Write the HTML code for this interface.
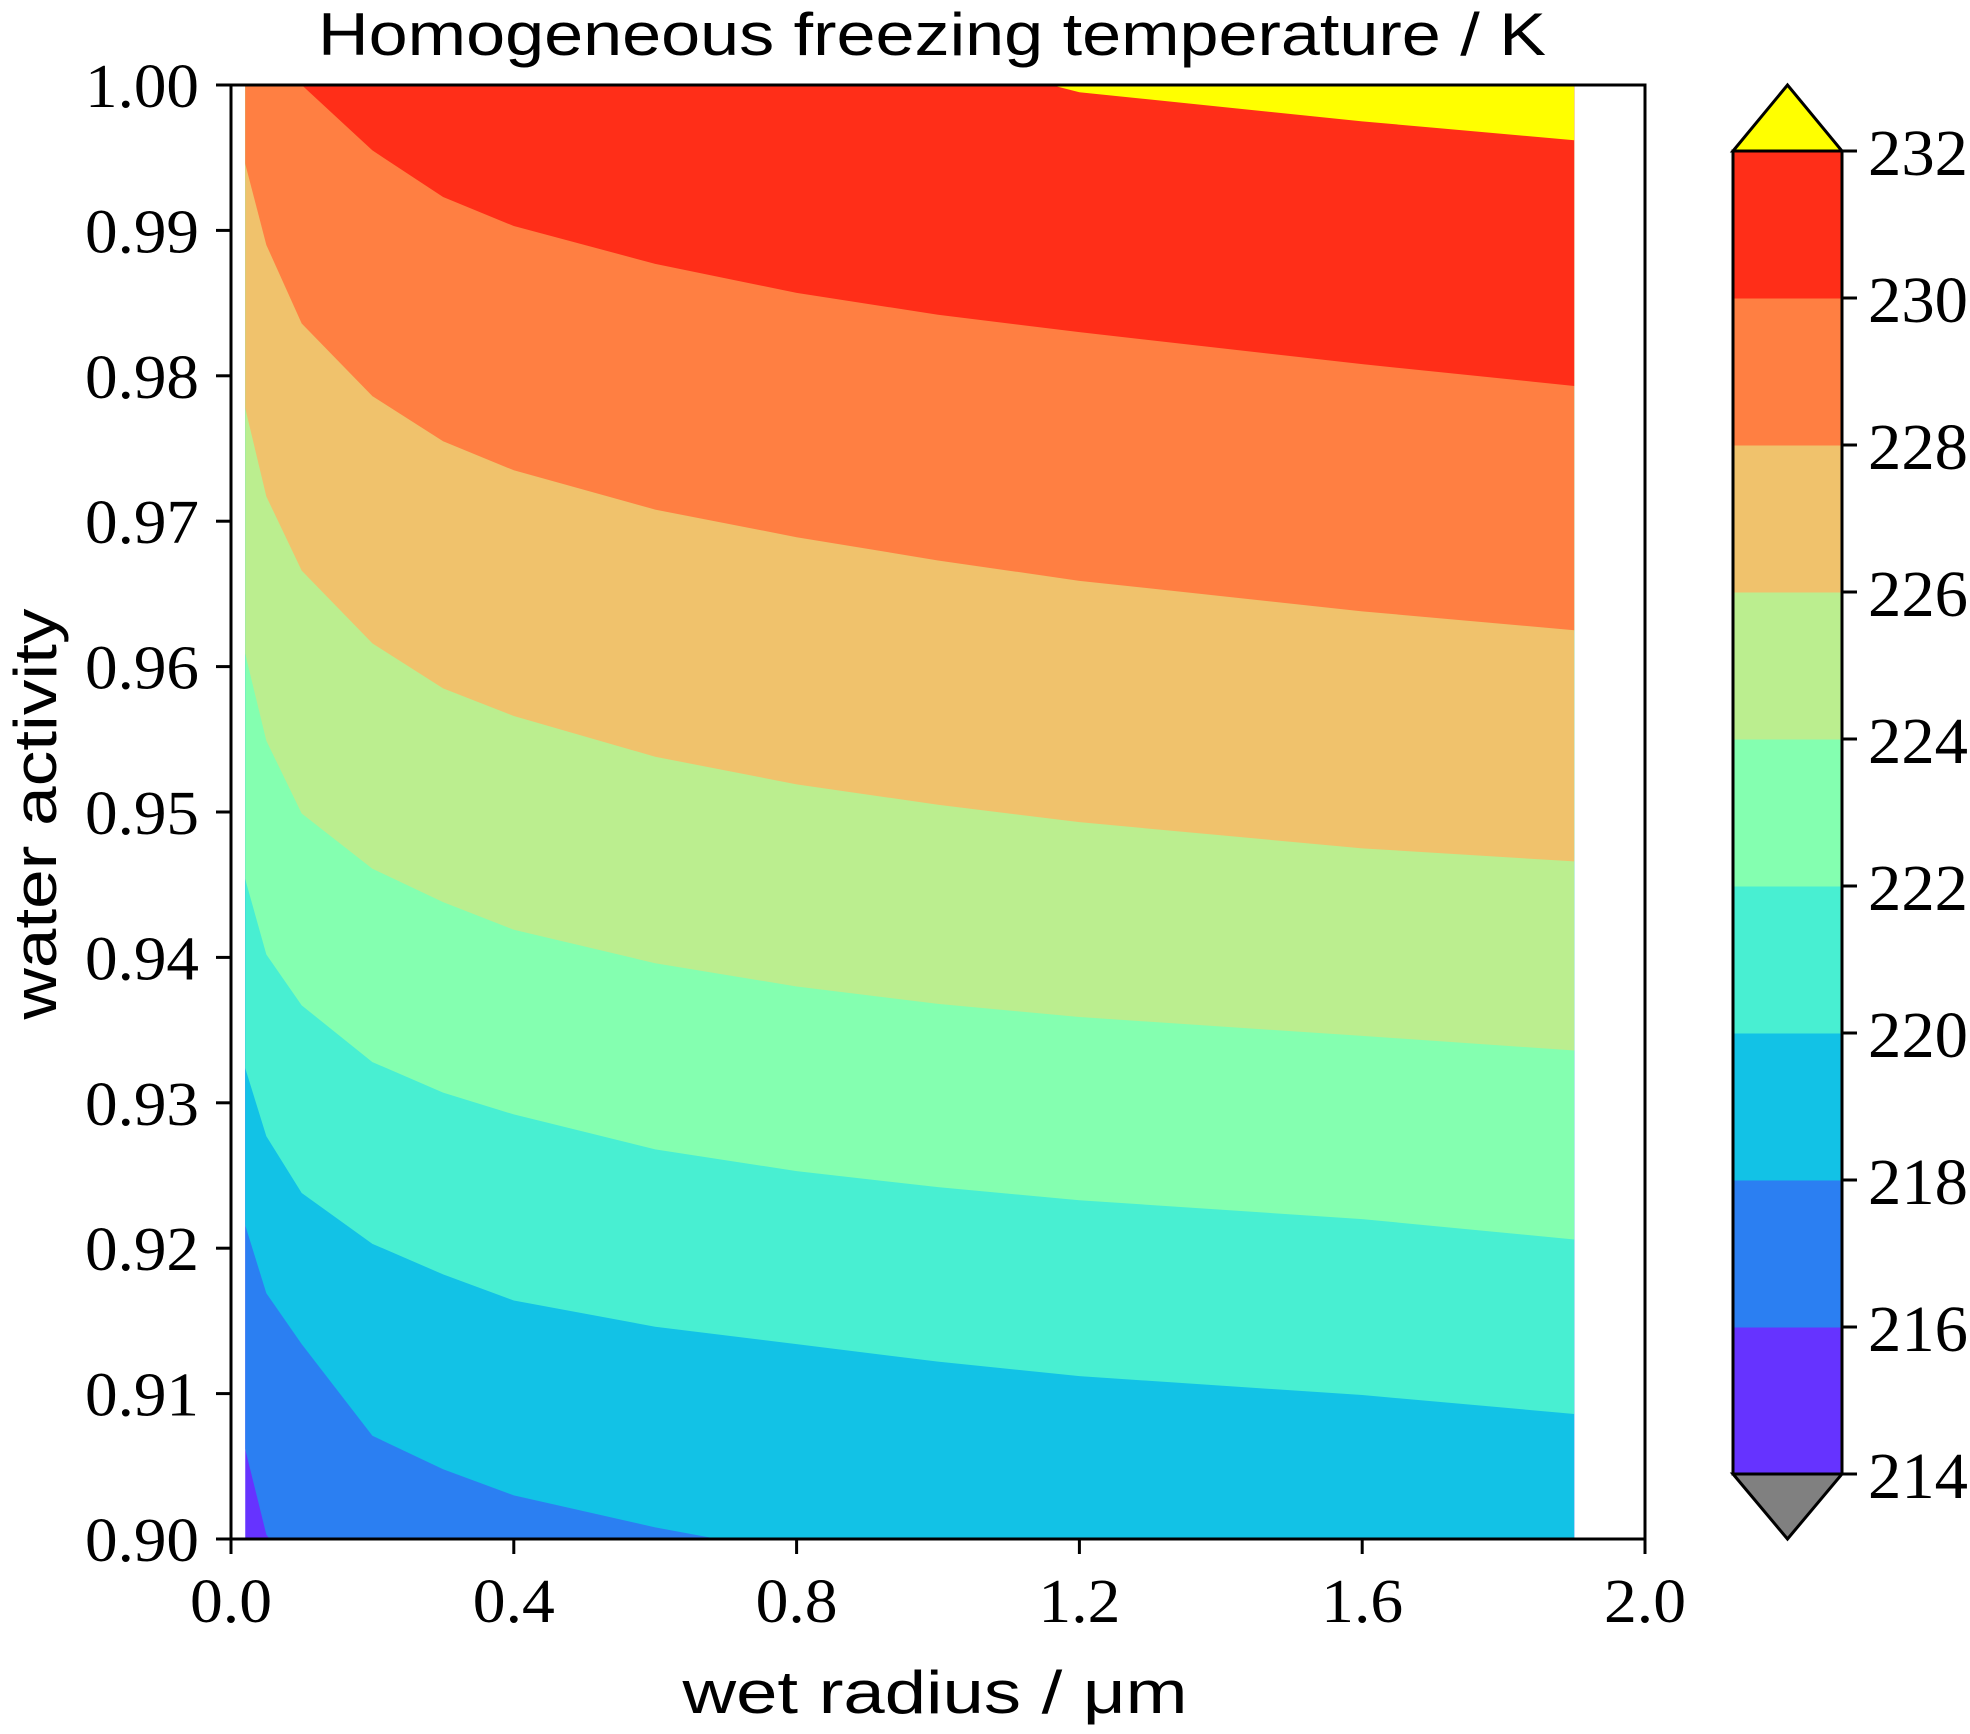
<!DOCTYPE html>
<html><head><meta charset="utf-8"><style>html,body{margin:0;padding:0;background:#fff;overflow:hidden;width:1970px;height:1734px}svg{display:block}</style></head>
<body>
<svg id="chart" width="1970" height="1734" xmlns="http://www.w3.org/2000/svg">
<defs><clipPath id="dataclip"><rect id="cliprect" x="0" y="0" width="0" height="0"/></clipPath></defs>
<g id="bands" clip-path="url(#dataclip)"></g>
<g id="axes"></g>
</svg>
<script>
const radii = [0.02,0.05,0.1,0.2,0.3,0.4,0.6,0.8,1.0,1.2,1.6,1.9];
const levels = [216,218,220,222,224,226,228,230,232];
const b216 = [0.9062,0.9003,0.897,0.893,0.891,0.889,0.887,0.885,0.8835,0.882,0.880,0.879];
const b218 = [0.9216,0.9169,0.9134,0.9071,0.9048,0.9030,0.9008,0.899,0.897,0.895,0.893,0.892];
const b220 = [0.9324,0.9277,0.9238,0.9203,0.9182,0.9164,0.9146,0.9134,0.9122,0.9112,0.9099,0.9086];
const b222 = [0.9454,0.9402,0.9367,0.9328,0.9307,0.9292,0.9268,0.9253,0.9242,0.9233,0.9220,0.9206];
const b224 = [0.9609,0.9549,0.9499,0.9461,0.9438,0.9419,0.9396,0.9380,0.9368,0.9359,0.9346,0.9336];
const b226 = [0.9778,0.9717,0.9666,0.9616,0.9585,0.9566,0.9538,0.9519,0.9505,0.9493,0.9475,0.9466];
const b228 = [0.9946,0.9890,0.9836,0.9786,0.9755,0.9735,0.9708,0.9689,0.9673,0.9659,0.9638,0.9625];
const b230 = [1.008,1.004,1.0,0.9955,0.9923,0.9903,0.9877,0.9857,0.9842,0.9830,0.9808,0.9793];
const b232 = [1.03,1.03,1.025,1.02,1.015,1.012,1.008,1.005,1.002,0.9995,0.9975,0.9962];
const boundaries = [b216,b218,b220,b222,b224,b226,b228,b230,b232];
const xTicks = [0.0,0.4,0.8,1.2,1.6,2.0];
const xTickLabels = ["0.0","0.4","0.8","1.2","1.6","2.0"];
const yTicks = [0.90,0.91,0.92,0.93,0.94,0.95,0.96,0.97,0.98,0.99,1.00];
const yTickLabels = ["0.90","0.91","0.92","0.93","0.94","0.95","0.96","0.97","0.98","0.99","1.00"];
const cbTicks = [214,216,218,220,222,224,226,228,230,232];
const bandColors = ["#6633ff","#2b7ff2","#12c2e6","#48efd2","#84ffb0","#bbee8f","#f0c26c","#ff7f42","#ff2e18","#ffff00"];

const L=231,R=1645,T=85,B=1539;
const xs=v=>L+(v-0)/(2-0)*(R-L);
const ys=v=>B-(v-0.9)/(0.1)*(B-T);
const CT=151,CB=1474,CL=1733,CR=1842;
const cy=v=>CB-(v-214)/(232-214)*(CB-CT);
const NS="http://www.w3.org/2000/svg";
function mk(tag,attrs,parent){const e=document.createElementNS(NS,tag);for(const k in attrs)e.setAttribute(k,attrs[k]);parent.appendChild(e);return e;}
const svg=document.getElementById('chart');
const cr=document.getElementById('cliprect');
cr.setAttribute('x',xs(radii[0]));cr.setAttribute('y',T);cr.setAttribute('width',xs(radii[radii.length-1])-xs(radii[0]));cr.setAttribute('height',B-T);
const bands=document.getElementById('bands');
const base=mk('rect',{x:xs(radii[0]),y:T,width:xs(radii[radii.length-1])-xs(radii[0]),height:B-T,fill:bandColors[0]},bands);


boundaries.forEach((bd,i)=>{
  let d='M'+xs(radii[0])+','+(T-200);
  radii.forEach((r,j)=>{d+=' L'+xs(r)+','+ys(bd[j]);});
  d+=' L'+xs(radii[radii.length-1])+','+(T-200)+' Z';
  const p=mk('path',{d:d,fill:bandColors[i+1]},bands);
  
  
});
const ax=document.getElementById('axes');
const frame=mk('rect',{x:L,y:T,width:R-L,height:B-T,fill:'none',stroke:'#000','stroke-width':3},ax);


const serif='"Liberation Serif", serif';
xTicks.forEach((v,i)=>{
  mk('line',{x1:xs(v),x2:xs(v),y1:B,y2:B+15,stroke:'#000','stroke-width':3},ax);
  const t=mk('text',{x:xs(v),y:1622,'font-family':serif,'font-size':62,'text-anchor':'middle',textLength:82,lengthAdjust:'spacingAndGlyphs'},ax);
  t.textContent=xTickLabels[i];
  
  
});
yTicks.forEach((v,i)=>{
  mk('line',{x1:L-15,x2:L,y1:ys(v),y2:ys(v),stroke:'#000','stroke-width':3},ax);
  const t=mk('text',{x:199,y:ys(v)+22,'font-family':serif,'font-size':62,'text-anchor':'end',textLength:114,lengthAdjust:'spacingAndGlyphs'},ax);
  t.textContent=yTickLabels[i];
  
  
});
for(let i=0;i<cbTicks.length-1;i++){
  const r=mk('rect',{x:CL,y:cy(cbTicks[i+1]),width:CR-CL,height:cy(cbTicks[i])-cy(cbTicks[i+1])+0.5,fill:bandColors[i]},ax);
  
  
}
const mid=(CL+CR)/2;
const up=mk('polygon',{points:`${CL},${CT} ${mid},${T} ${CR},${CT}`,fill:bandColors[9],stroke:'#000','stroke-width':3},ax);


const dn=mk('polygon',{points:`${CL},${CB} ${mid},${B} ${CR},${CB}`,fill:'#808080',stroke:'#000','stroke-width':3},ax);


mk('rect',{x:CL,y:CT,width:CR-CL,height:CB-CT,fill:'none',stroke:'#000','stroke-width':3},ax);
cbTicks.forEach(v=>{
  mk('line',{x1:CR,x2:CR+15,y1:cy(v),y2:cy(v),stroke:'#000','stroke-width':3},ax);
  const t=mk('text',{x:1868,y:cy(v)+24,'font-family':serif,'font-size':66,textLength:100,lengthAdjust:'spacingAndGlyphs'},ax);
  t.textContent=v;
  
  
});
const sans='"Liberation Sans", sans-serif';
const title=mk('text',{x:932,y:55,'font-family':sans,'font-size':60,'text-anchor':'middle',textLength:1228,lengthAdjust:'spacingAndGlyphs'},svg);
title.textContent='Homogeneous freezing temperature / K';


const xl=mk('text',{x:935,y:1713,'font-family':sans,'font-size':60,'text-anchor':'middle',textLength:505,lengthAdjust:'spacingAndGlyphs'},svg);
xl.textContent='wet radius / μm';


const yl=mk('text',{x:0,y:0,'font-family':sans,'font-size':60,'text-anchor':'middle',textLength:411,lengthAdjust:'spacingAndGlyphs',transform:'translate(56,814) rotate(-90)'},svg);
yl.textContent='water activity';


</script>
</body></html>
